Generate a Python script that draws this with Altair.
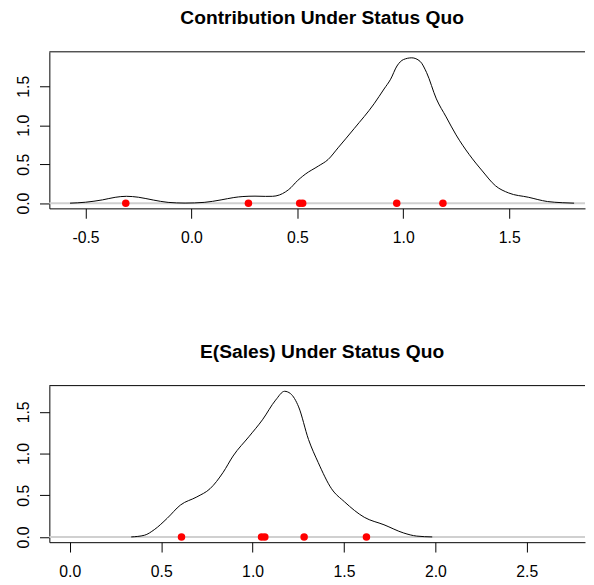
import altair as alt
import pandas as pd

# ---- Panel 1: Contribution Under Status Quo ----
top_title = "Contribution Under Status Quo"
top_dens_x = [-0.573, -0.50, -0.42, -0.36, -0.307, -0.25, -0.18, -0.11, -0.03, 0.06,
              0.14, 0.20, 0.243, 0.30, 0.35, 0.383, 0.415, 0.444, 0.47, 0.49, 0.537,
              0.599, 0.645, 0.692, 0.769, 0.862, 0.909, 0.94, 0.97, 1.001, 1.04,
              1.079, 1.11, 1.156, 1.202, 1.249, 1.311, 1.373, 1.435, 1.497, 1.59,
              1.68, 1.75, 1.806]
top_dens_y = [0.0, 0.012, 0.042, 0.075, 0.088, 0.076, 0.040, 0.010, 0.001, 0.010,
              0.042, 0.072, 0.085, 0.090, 0.087, 0.088, 0.105, 0.145, 0.20, 0.26, 0.371,
              0.476, 0.56, 0.71, 0.96, 1.275, 1.465, 1.59, 1.76, 1.843, 1.865,
              1.82, 1.675, 1.338, 1.107, 0.876, 0.624, 0.413, 0.223, 0.131, 0.076,
              0.021, 0.006, 0.0]
top_points = [-0.31, 0.269, 0.511, 0.525, 0.969, 1.187]
top_xticks = [-0.5, 0.0, 0.5, 1.0, 1.5]
top_xdomain = [-0.6706, 1.8576]
top_ydomain = [-0.067, 1.942]

# ---- Panel 2: E(Sales) Under Status Quo ----
bot_title = "E(Sales) Under Status Quo"
bot_dens_x = [0.336, 0.408, 0.462, 0.533, 0.605, 0.695, 0.767, 0.839, 0.893, 0.982,
              1.054, 1.126, 1.175, 1.207, 1.252, 1.306, 1.359, 1.432, 1.503, 1.611,
              1.719, 1.827, 1.898, 1.983]
bot_dens_y = [0.0, 0.02, 0.087, 0.224, 0.382, 0.48, 0.578, 0.775, 0.97, 1.208,
              1.405, 1.641, 1.747, 1.72, 1.56, 1.169, 0.893, 0.578, 0.421, 0.236,
              0.146, 0.047, 0.01, 0.0]
bot_points = [0.611, 1.049, 1.067, 1.282, 1.623]
bot_xticks = [0.0, 0.5, 1.0, 1.5, 2.0, 2.5]
bot_xdomain = [-0.112, 2.819]
bot_ydomain = [-0.063, 1.815]

y_ticks = [0.0, 0.5, 1.0, 1.5]

FONT = "Liberation Sans"
W = 544
H = 159
LABEL_EXPR = "replace(format(datum.value, '.1f'), '\u2212', '-')"


def panel(title, dens_x, dens_y, pts, xticks, xdom, ydom):
    dens = pd.DataFrame({"x": dens_x, "y": dens_y})
    pdf = pd.DataFrame({"x": pts, "y": [0.0] * len(pts)})
    xs = alt.Scale(domain=xdom, nice=False, zero=False)
    ys = alt.Scale(domain=ydom, nice=False, zero=False)
    xaxis = alt.Axis(values=xticks, labelExpr=LABEL_EXPR, title=None, grid=False,
                     tickSize=10, labelPadding=12, labelFontSize=16, labelFont=FONT,
                     labelColor="black", tickColor="black", domainColor="black",
                     minExtent=40, maxExtent=40, labelFlush=False)
    yaxis = alt.Axis(values=y_ticks, labelExpr=LABEL_EXPR, title=None, grid=False,
                     tickSize=10, labelPadding=8, labelFontSize=16, labelFont=FONT,
                     labelColor="black", tickColor="black", domainColor="black",
                     labelAngle=270, labelAlign="center", labelBaseline="bottom",
                     minExtent=42, maxExtent=42, labelFlush=False)

    zero = alt.Chart(pd.DataFrame({"y": [0.0]})).mark_rule(
        color="#d0d0d0", strokeWidth=2
    ).encode(y=alt.Y("y:Q", scale=ys, axis=yaxis))

    border = alt.Chart(pd.DataFrame({"a": [0]})).mark_rule(
        color="black", strokeWidth=1
    ).encode(y=alt.value(0))

    line = alt.Chart(dens).mark_line(
        color="black", strokeWidth=1, interpolate="monotone"
    ).encode(
        x=alt.X("x:Q", scale=xs, axis=xaxis),
        y=alt.Y("y:Q", scale=ys, axis=yaxis),
    )

    points = alt.Chart(pdf).mark_circle(
        color="#ff0000", opacity=1, size=58
    ).encode(
        x=alt.X("x:Q", scale=xs, axis=xaxis),
        y=alt.Y("y:Q", scale=ys, axis=yaxis),
    )

    return alt.layer(zero, border, line, points).properties(
        width=W, height=H,
        title=alt.TitleParams(title, font=FONT, fontSize=19.5, fontWeight="bold",
                              color="black", anchor="middle", frame="group",
                              baseline="alphabetic", offset=8, dx=5),
    )


top = panel(top_title, top_dens_x, top_dens_y, top_points, top_xticks,
            top_xdomain, top_ydomain)
bot = panel(bot_title, bot_dens_x, bot_dens_y, bot_points, bot_xticks,
            bot_xdomain, bot_ydomain)

chart = alt.vconcat(top, bot, spacing=96).properties(
    padding={"top": -4, "left": 0, "right": 0, "bottom": 0}
).configure_view(stroke=None)

chart.save("out.html", embed_options={"renderer": "svg", "actions": False})
